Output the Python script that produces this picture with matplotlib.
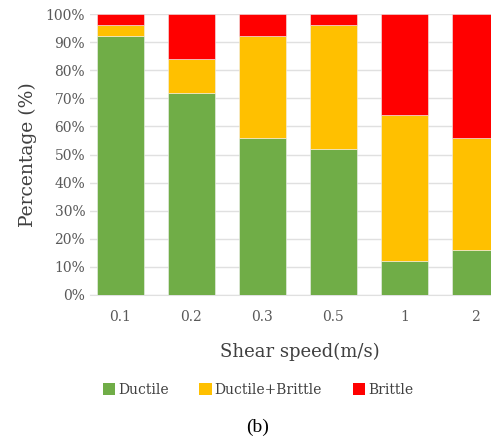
import matplotlib
matplotlib.use("Agg")
import matplotlib.pyplot as plt
from matplotlib.patches import Patch
import numpy as np

categories = ["0.1", "0.2", "0.3", "0.5", "1", "2"]
ductile = [92, 72, 56, 52, 12, 16]
ductile_brittle = [4, 12, 36, 44, 52, 40]
brittle = [4, 16, 8, 4, 36, 44]
series_names = ["Ductile", "Ductile+Brittle", "Brittle"]
colors = ["#70AD47", "#FFC000", "#FF0000"]
yticks = [0, 10, 20, 30, 40, 50, 60, 70, 80, 90, 100]

W, H = 491, 441
fig = plt.figure(figsize=(W / 100, H / 100), dpi=100)
ax = fig.add_axes([90 / W, 1 - 295 / H, (491 - 90) / W, (295 - 14) / H])

x = np.arange(len(categories))
width = 0.66
bottom = np.zeros(len(categories))
for vals, c in zip([ductile, ductile_brittle, brittle], colors):
    ax.bar(x, vals, width, bottom=bottom, color=c, edgecolor="#f0f0f0", linewidth=0.4, zorder=3)
    bottom += np.array(vals)

ax.set_xlim(-0.43, 5.22)
ax.set_ylim(0, 100)
ax.set_yticks(yticks)
ax.set_yticklabels([f"{v}%" for v in yticks])
ax.set_xticks(x)
ax.set_xticklabels(categories)
ax.grid(axis="y", color="#e0e0e0", linewidth=1, zorder=0)
for s in ["top", "right", "left"]:
    ax.spines[s].set_visible(False)
ax.spines["bottom"].set_color("#e0e0e0")
ax.tick_params(axis="both", length=0, labelsize=10, labelcolor="#595959")
ax.tick_params(axis="x", pad=11)
for lab in ax.get_xticklabels() + ax.get_yticklabels():
    lab.set_family("DejaVu Serif")

ax.set_ylabel("Percentage (%)", family="DejaVu Serif", fontsize=13.5, color="#404040", labelpad=6)
fig.text(300 / W, 1 - 352 / H, "Shear speed(m/s)", family="DejaVu Serif", fontsize=13,
         color="#404040", ha="center", va="center")

handles = [Patch(facecolor=c, edgecolor="none") for c in colors]
fig.legend(handles, series_names, loc="center", bbox_to_anchor=(258 / W, 1 - 390 / H), ncol=3,
           frameon=False, prop={"family": "DejaVu Serif", "size": 10}, handlelength=0.9,
           handleheight=0.9, handletextpad=0.2, columnspacing=2.2, labelcolor="#404040")

fig.text(258 / W, 1 - 427 / H, "(b)", family="Liberation Serif", fontsize=14, ha="center", va="center")

fig.savefig("out.png", dpi=100)
